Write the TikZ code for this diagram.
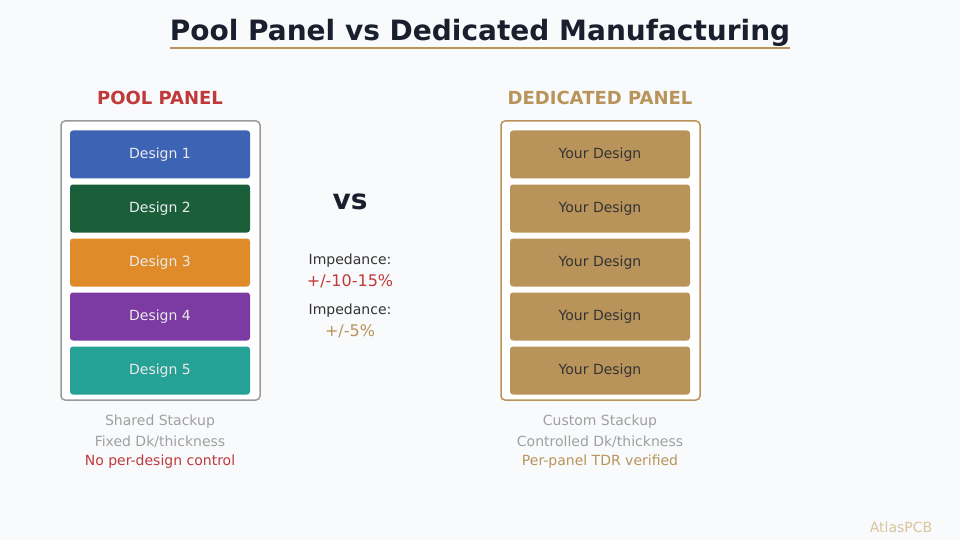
\documentclass[tikz,border=0pt]{standalone}
\usepackage{fontspec}
\setmainfont{DejaVu Sans}
\definecolor{bg}{HTML}{F8FAFC}
\definecolor{titlec}{HTML}{1A1F2E}
\definecolor{gold}{HTML}{B8945A}
\definecolor{redc}{HTML}{C0393B}
\definecolor{grayt}{HTML}{A0A0A0}
\definecolor{grayb}{HTML}{9A9A9A}
\definecolor{darkt}{HTML}{333333}
\definecolor{cA}{HTML}{3D64B4}
\definecolor{cB}{HTML}{1B5E3A}
\definecolor{cC}{HTML}{DF8B2A}
\definecolor{cD}{HTML}{7B3BA3}
\definecolor{cE}{HTML}{26A195}
\definecolor{wm}{HTML}{D9C49B}
\begin{document}
\begin{tikzpicture}[x=1pt,y=-1pt,
  outerbox/.style={draw, line width=1.5pt, rounded corners=4pt, fill=white, minimum width=199pt, minimum height=279pt, inner sep=0pt},
  dbox/.style={rounded corners=3pt, minimum width=180pt, minimum height=48pt, inner sep=0pt, font=\fontsize{14}{16}\selectfont},
  pool/.style={dbox, text=white!92!black},
  ded/.style={dbox, fill=gold, text=darkt},
  head/.style={font=\fontsize{18}{20}\selectfont\bfseries},
  note/.style={font=\fontsize{14}{16}\selectfont, text=grayt},
  imp/.style={font=\fontsize{14}{16}\selectfont, text=darkt},
  impv/.style={font=\fontsize{16}{18}\selectfont}]
\fill[bg] (0,0) rectangle (960,540);
\useasboundingbox (0,0) rectangle (960,540);
\node[font=\fontsize{28}{32}\selectfont\bfseries, text=titlec] (title) at (480,32.5) {Pool Panel vs Dedicated Manufacturing};
\coordinate (ulL) at (170,48);
\coordinate (ulR) at (790,48);
\draw[gold, line width=2pt] (ulL) -- (ulR);
% left
\node[head, text=redc] (poolh) at (160,98) {POOL PANEL};
\node[outerbox, draw=grayb] (poolbox) at (160.5,260.5) {};
\node[pool, fill=cA] (d1) at (160,154.5) {\raisebox{-1pt}{Design 1}};
\node[pool, fill=cB] (d2) at (160,208.5) {\raisebox{-1pt}{Design 2}};
\node[pool, fill=cC] (d3) at (160,262.5) {\raisebox{-1pt}{Design 3}};
\node[pool, fill=cD] (d4) at (160,316.5) {\raisebox{-1pt}{Design 4}};
\node[pool, fill=cE] (d5) at (160,370.5) {\raisebox{-1pt}{Design 5}};
\node[note] (ln1) at (160,422) {Shared Stackup};
\node[note] (ln2) at (160,442) {Fixed Dk/thickness};
\node[note, text=redc] (ln3) at (160,462) {No per-design control};
% center
\node[font=\fontsize{28}{32}\selectfont\bfseries, text=titlec] (vs) at (350,202) {vs};
\node[imp] (i1) at (350,261) {Impedance:};
\node[impv, text=redc] (i1v) at (350,281) {+/-10-15\%};
\node[imp] (i2) at (350,311) {Impedance:};
\node[impv, text=gold] (i2v) at (350,331) {+/-5\%};
% right
\node[head, text=gold] (dedh) at (600,98) {DEDICATED PANEL};
\node[outerbox, draw=gold] (dedbox) at (600.5,260.5) {};
\node[ded] (y1) at (600,154.5) {\raisebox{-1pt}{Your Design}};
\node[ded] (y2) at (600,208.5) {\raisebox{-1pt}{Your Design}};
\node[ded] (y3) at (600,262.5) {\raisebox{-1pt}{Your Design}};
\node[ded] (y4) at (600,316.5) {\raisebox{-1pt}{Your Design}};
\node[ded] (y5) at (600,370.5) {\raisebox{-1pt}{Your Design}};
\node[note] (rn1) at (600,422) {Custom Stackup};
\node[note] (rn2) at (600,442) {Controlled Dk/thickness};
\node[note, text=gold] (rn3) at (600,462) {Per-panel TDR verified};
\node[font=\fontsize{14}{16}\selectfont, text=wm] (wmk) at (901,527) {AtlasPCB};
\end{tikzpicture}
\end{document}
